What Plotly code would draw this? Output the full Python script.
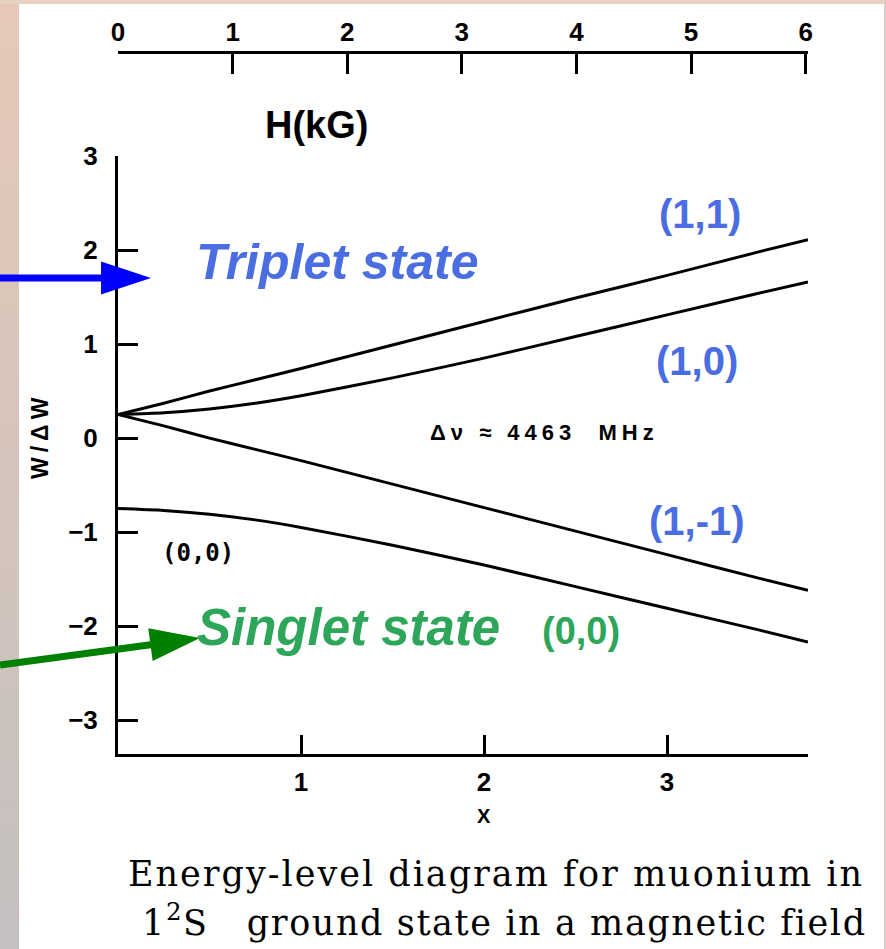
import plotly.graph_objects as go

# ---- data -------------------------------------------------------------
# reduced field x and energy levels W/ΔW for each (F, m_F) state
x_vals = [0.0, 0.25, 0.5, 0.75, 1.0, 1.5, 2.0, 2.5, 3.0, 3.5, 3.77]
w_11 = [0.25, 0.37, 0.50, 0.62, 0.74, 0.99, 1.24, 1.49, 1.73, 1.98, 2.11]
w_10 = [0.25, 0.27, 0.31, 0.37, 0.45, 0.64, 0.85, 1.08, 1.31, 1.54, 1.66]
w_1m1 = [0.25, 0.13, 0.00, -0.12, -0.24, -0.49, -0.74, -0.99, -1.24, -1.49, -1.62]
w_00 = [-0.75, -0.77, -0.81, -0.87, -0.95, -1.14, -1.35, -1.58, -1.81, -2.04, -2.17]

x_ticks = [1, 2, 3]
y_ticks = [-3, -2, -1, 0, 1, 2, 3]
h_ticks = [0, 1, 2, 3, 4, 5, 6]

W, H = 886, 949


def px(v):
    return v / W


def py(v):
    return 1 - v / H


fig = go.Figure()

for ys in (w_11, w_10, w_1m1, w_00):
    fig.add_trace(go.Scatter(
        x=x_vals, y=ys, mode="lines",
        line=dict(color="black", width=3, shape="spline", smoothing=0.6),
        showlegend=False, hoverinfo="skip"))

# empty trace carrying the field-strength axis along the top
fig.add_trace(go.Scatter(x=h_ticks, y=[None] * len(h_ticks), xaxis="x2",
                         yaxis="y", mode="lines", showlegend=False,
                         hoverinfo="skip"))

tick_font = dict(family="Liberation Sans, Arial", size=26, color="black",
                 weight="bold")

fig.update_layout(
    width=W, height=H,
    margin=dict(l=0, r=0, t=0, b=0, pad=0),
    paper_bgcolor="white", plot_bgcolor="rgba(0,0,0,0)",
    xaxis=dict(domain=[px(118), px(808)], range=[0, 3.77], anchor="y",
               showline=True, linecolor="black", linewidth=3,
               ticks="inside", ticklen=19, tickwidth=2.5, tickcolor="black",
               tickvals=x_ticks, showgrid=False, zeroline=False,
               tickfont=tick_font, ticklabelstandoff=3, automargin=False),
    xaxis2=dict(overlaying="x", side="top", anchor="free", position=py(52),
                range=[0, 6.02], showline=True, linecolor="black",
                linewidth=3, ticks="inside", ticklen=20, tickwidth=2.5,
                tickcolor="black", tickvals=h_ticks, showgrid=False,
                zeroline=False, tickfont=tick_font, ticklabelstandoff=0,
                automargin=False),
    yaxis=dict(domain=[py(754), py(156)], range=[-3.36, 3.0], anchor="x",
               showline=True, linecolor="black", linewidth=3,
               ticks="inside", ticklen=20, tickwidth=2.5, tickcolor="black",
               tickvals=y_ticks, showgrid=False, zeroline=False,
               tickfont=tick_font, ticklabelstandoff=12, automargin=False),
)

# ---- frame ------------------------------------------------------------
shapes = []
top_c = (229, 200, 184)
bot_c = (196, 192, 191)
n_band = 40
for i in range(n_band):
    t = i / (n_band - 1)
    c = tuple(round(a + (b - a) * t) for a, b in zip(top_c, bot_c))
    shapes.append(dict(type="rect", xref="paper", yref="paper",
                       x0=px(0), x1=px(19), y0=py(H * (i + 1) / n_band + 1),
                       y1=py(H * i / n_band), line=dict(width=0),
                       fillcolor="rgb(%d,%d,%d)" % c, layer="below"))
shapes.append(dict(type="rect", xref="paper", yref="paper", x0=px(0),
                   x1=px(W), y0=py(4), y1=py(0), line=dict(width=0),
                   fillcolor="rgb(232,208,195)", layer="below"))
shapes.append(dict(type="rect", xref="paper", yref="paper", x0=px(884),
                   x1=px(W), y0=py(H), y1=py(0), line=dict(width=0),
                   fillcolor="rgb(225,205,200)", layer="below"))


def arrow(x0, y0, x1, y1, color, width, head_len, head_half):
    dx, dy = x1 - x0, y1 - y0
    d = (dx * dx + dy * dy) ** 0.5
    ux, uy = dx / d, dy / d
    bx, by = x1 - ux * head_len, y1 - uy * head_len
    shapes.append(dict(type="line", xref="paper", yref="paper",
                       x0=px(x0), y0=py(y0), x1=px(bx + ux * 2),
                       y1=py(by + uy * 2),
                       line=dict(color=color, width=width)))
    p1 = (bx - uy * head_half, by + ux * head_half)
    p2 = (bx + uy * head_half, by - ux * head_half)
    path = "M %f %f L %f %f L %f %f Z" % (px(x1), py(y1), px(p1[0]),
                                          py(p1[1]), px(p2[0]), py(p2[1]))
    shapes.append(dict(type="path", xref="paper", yref="paper", path=path,
                       fillcolor=color, line=dict(color=color, width=0)))


arrow(0, 278, 151, 278, "#0000ff", 7, 50, 16.5)
arrow(0, 665, 200, 638, "#008000", 7, 50, 16.5)
fig.update_layout(shapes=shapes)

# ---- labels -----------------------------------------------------------
blue = "#4a6ee2"
green = "#2ea65a"
ann = []


def spaced(text, gap):
    return '<span style="letter-spacing:%spx">%s</span>' % (gap, text)


def label(text, x, y, size, color="black", family="Liberation Sans, Arial",
          weight="bold", style="normal", angle=0):
    ann.append(dict(text=text, xref="paper", yref="paper", x=px(x), y=py(y),
                    xanchor="center", yanchor="middle", showarrow=False,
                    textangle=angle,
                    font=dict(size=size, color=color, family=family,
                              weight=weight, style=style)))


label("H(kG)", 316, 125, 38)
label(spaced("W/ΔW", 5), 40, 436, 23, angle=-90)
label("X", 484, 816, 20)
label("Triplet state", 337, 262, 50, color=blue, style="italic")
label("Singlet state", 348, 627, 51, color=green, style="italic")
label("(1,1)", 700, 214, 40, color=blue)
label("(1,0)", 697, 361, 40, color=blue)
label("(1,-1)", 697, 521, 40, color=blue)
label("(0,0)", 581, 631, 38, color=green)
label("(0,0)", 198, 553, 24, family="DejaVu Sans Mono")
label(spaced("Δν ≈ 4463  MHz", 5), 544, 432, 22)
label(spaced("Energy-level diagram for muonium in", 2), 496, 874, 35,
      family="DejaVu Serif", weight="normal")
label(spaced("1<sup>2</sup>S   ground state in a magnetic field", 1.6), 504,
      920, 35, family="DejaVu Serif", weight="normal")
fig.update_layout(annotations=ann)

fig.write_html("out.html", post_script="document.body.style.margin='0';")
